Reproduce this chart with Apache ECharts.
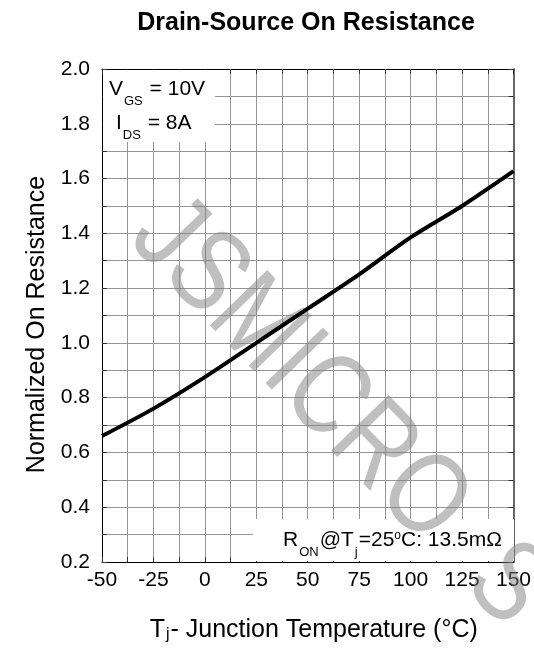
<!DOCTYPE html>
<html>
<head>
<meta charset="utf-8">
<script src="https://cdn.jsdelivr.net/npm/echarts@6/dist/echarts.min.js"></script>
<style>
html,body{margin:0;padding:0;background:#fff;}
#c{width:534px;height:649px;}
</style>
</head>
<body>
<div id="c"></div>
<script>
// ---- data ----
const temperatures = [-50, -25, 0, 25, 50, 75, 100, 125, 150];
const normalizedRon = [0.66, 0.76, 0.875, 1.0, 1.125, 1.25, 1.385, 1.5, 1.627];
const xTickLabels = ['-50', '-25', '0', '25', '50', '75', '100', '125', '150'];
const yTickLabels = ['0.2', '0.4', '0.6', '0.8', '1.0', '1.2', '1.4', '1.6', '1.8', '2.0'];

const FONT = 'Liberation Sans, Arial, Helvetica, sans-serif';
const chart = echarts.init(document.getElementById('c'), null, {renderer: 'canvas'});

const lineData = temperatures.map((t, i) => [t, normalizedRon[i]]);

const gridLine = {show: true, lineStyle: {color: '#959595', width: 1}};
const tickIn = {show: true, inside: true, length: 5, lineStyle: {color: '#333'}};

const subRich = {
  m: {fontFamily: FONT, fontSize: 21, fill: '#000', lineHeight: 24},
  s: {fontFamily: FONT, fontSize: 13, fill: '#000', padding: [24, 1, 0, 1]},
  u: {fontFamily: FONT, fontSize: 12, fill: '#000', padding: [0, 0, 9, 0]}
};

const option = {
  backgroundColor: '#fff',
  animation: false,
  title: {
    text: 'Drain-Source On Resistance',
    left: 301, top: 6, textAlign: 'center',
    textStyle: {fontFamily: FONT, fontWeight: 'bold', fontSize: 25, color: '#000'}
  },
  grid: {left: 102, right: 18, top: 69, bottom: 87, containLabel: false},
  xAxis: [{
    type: 'value', min: -50, max: 150, interval: 12.5,
    axisLine: {show: true, onZero: false, lineStyle: {color: '#000', width: 1}},
    axisTick: tickIn,
    splitLine: gridLine,
    axisLabel: {
      fontFamily: FONT, fontSize: 21, color: '#000', margin: 8,
      formatter: v => { const s = String(v); return xTickLabels.indexOf(s) >= 0 ? s : ''; }
    },
    name: '{t|T}{s|j}{t|- Junction Temperature (°C)}',
    nameLocation: 'middle', nameGap: 56,
    nameTextStyle: {
      fontFamily: FONT, fontSize: 25, color: '#000', padding: [0, 0, 0, 12],
      rich: {
        t: {fontFamily: FONT, fontSize: 25, color: '#000'},
        s: {fontFamily: FONT, fontSize: 16, color: '#000', padding: [8, 1, 0, 1]}
      }
    }
  }, {
    type: 'value', min: -50, max: 150, interval: 12.5, position: 'top',
    axisLine: {show: true, onZero: false, lineStyle: {color: '#000', width: 1}},
    axisTick: tickIn, axisLabel: {show: false}, splitLine: {show: false}
  }],
  yAxis: [{
    type: 'value', min: 0.2, max: 2.0, interval: 0.1,
    axisLine: {show: true, onZero: false, lineStyle: {color: '#000', width: 1}},
    axisTick: tickIn,
    splitLine: gridLine,
    axisLabel: {
      fontFamily: FONT, fontSize: 21, color: '#000', margin: 12,
      formatter: v => { const s = v.toFixed(1); return yTickLabels.indexOf(s) >= 0 ? s : ''; }
    },
    name: 'Normalized On Resistance',
    nameLocation: 'middle', nameGap: 50,
    nameTextStyle: {fontFamily: FONT, fontSize: 25, color: '#000', padding: [0, 18, 0, 0]}
  }, {
    type: 'value', min: 0.2, max: 2.0, interval: 0.1, position: 'right',
    axisLine: {show: true, onZero: false, lineStyle: {color: '#666', width: 2}},
    axisTick: tickIn, axisLabel: {show: false}, splitLine: {show: false}
  }],
  series: [{
    type: 'line', xAxisIndex: 0, yAxisIndex: 0,
    data: lineData, smooth: 0.3, showSymbol: false, symbol: 'none',
    lineStyle: {color: '#000', width: 4}, z: 5
  }],
  graphic: [
    {type: 'rect', z: 3, shape: {x: 103, y: 70, width: 112, height: 72}, style: {fill: '#fff'}},
    {type: 'text', z: 4, left: 109, top: 79,
      style: {text: '{m|V}{s|GS}{m| = 10V}', fontFamily: FONT, rich: subRich}},
    {type: 'text', z: 4, left: 116, top: 113,
      style: {text: '{m|I}{s|DS}{m| = 8A}', fontFamily: FONT, rich: subRich}},
    {type: 'rect', z: 3, shape: {x: 253, y: 519, width: 261, height: 42}, style: {fill: '#fff'}},
    {type: 'text', z: 4, left: 283, top: 530,
      style: {text: '{m|R}{s|ON}{m|@T}{s|j}{m|=25}{u|o}{m|C: 13.5mΩ}', fontFamily: FONT, rich: subRich}},
    {type: 'text', z: 4, x: 150, y: 218, rotation: -0.80, scaleX: 0.82,
      style: {
        text: 'JSMICRO  S', fontFamily: FONT, fontSize: 116,
        fill: 'rgba(128,128,128,0.5)', textVerticalAlign: 'middle', textAlign: 'left'
      }}
  ]
};
chart.setOption(option);
</script>
</body>
</html>
